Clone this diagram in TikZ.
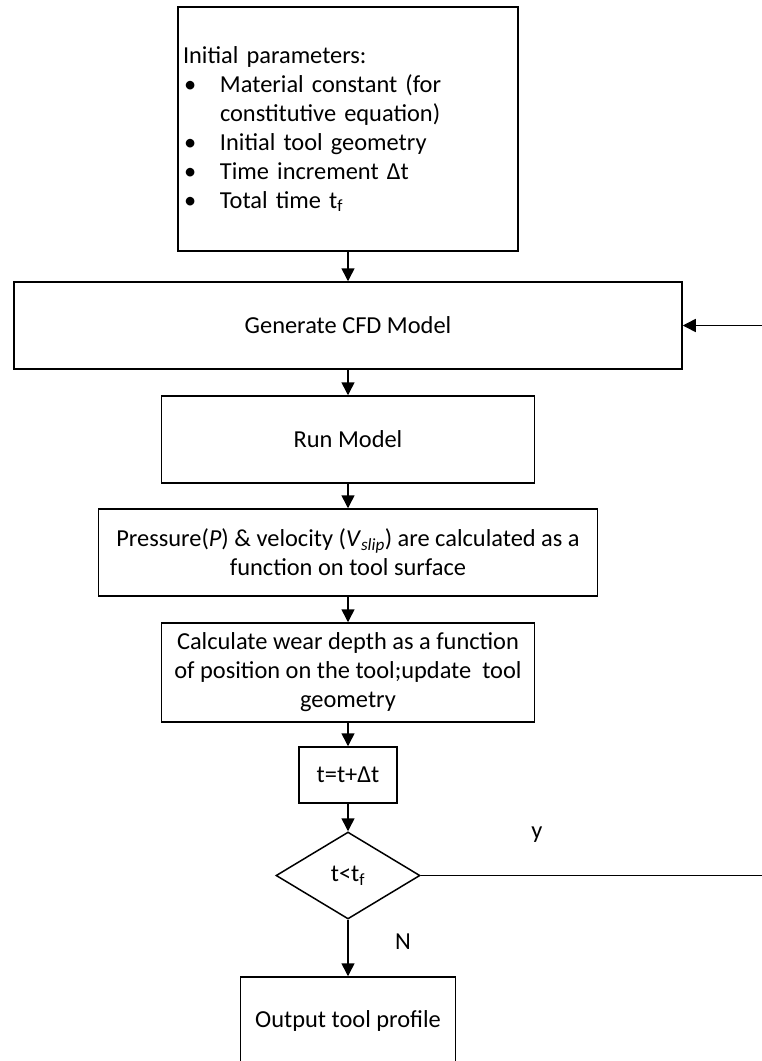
\documentclass[tikz,border=0pt]{standalone}
\usepackage{fontspec}
\setmainfont{Carlito}
\usetikzlibrary{arrows.meta,shapes.geometric}

\newcommand{\itm}{\makebox[37pt][l]{\hspace{1pt}\textbullet}}

\tikzset{
  box/.style={draw,line width=1.5pt,align=center,inner sep=4pt,
              font=\fontsize{24.4}{29}\selectfont},
  decide/.style={draw,diamond,line width=1.5pt,aspect=1.65,inner sep=0pt,
                 font=\fontsize{24.4}{29}\selectfont},
  flow/.style={line width=1.5pt,-{Triangle[length=13pt,width=13pt]}},
  lbl/.style={font=\fontsize{24.4}{29}\selectfont}
}

\begin{document}
\begin{tikzpicture}[x=1pt,y=-1pt]
  \useasboundingbox (0,0) rectangle (762,1061);

  \node[box,align=left,text width=330pt,minimum height=244pt,inner xsep=5pt]
    (init) at (348,129) {Initial parameters:\\
      \itm Material constant (for\\
      \hspace*{37pt}constitutive equation)\\
      \itm Initial tool geometry\\
      \itm Time increment Δt\\
      \itm Total time t\textsubscript{f}};

  \node[box,minimum width=668pt,minimum height=87pt] (gen) at (348,325.5)
    {Generate CFD Model};

  \node[box,minimum width=373pt,minimum height=87pt] (run) at (348,439.5)
    {Run Model};

  \node[box,minimum width=499pt,minimum height=87pt] (press) at (348,552.5)
    {Pressure(\textit{P}) \& velocity (\textit{V}\textsubscript{\textit{slip}}) are calculated as a\\
     function on tool surface};

  \node[box,minimum width=373pt,minimum height=99pt] (wear) at (348,672.5)
    {Calculate wear depth as a function\\
     of position on the tool;update\ \ tool\\
     geometry};

  \node[box,minimum width=98pt,minimum height=56pt] (tstep) at (348,775)
    {t=t+Δt};

  \node[decide,minimum width=144pt,minimum height=87pt] (dec) at (348,875.5)
    {t<t\textsubscript{f}};

  \node[box,minimum width=215pt,minimum height=88pt] (out) at (348,1021)
    {Output tool profile};

  % loop back, vertical part lies outside the page
  \coordinate (back) at (800,875.5);

  \draw[flow] (init) -- (gen);
  \draw[flow] (gen) -- (run);
  \draw[flow] (run) -- (press);
  \draw[flow] (press) -- (wear);
  \draw[flow] (wear) -- (tstep);
  \draw[flow] (tstep) -- (dec);
  \draw[flow] (dec) -- (out);
  \draw[flow] (dec.east) -- (back) |- (gen.east);

  \node[lbl] (yes) at (537,835) {y};
  \node[lbl] (no) at (403,942) {N};
\end{tikzpicture}
\end{document}
